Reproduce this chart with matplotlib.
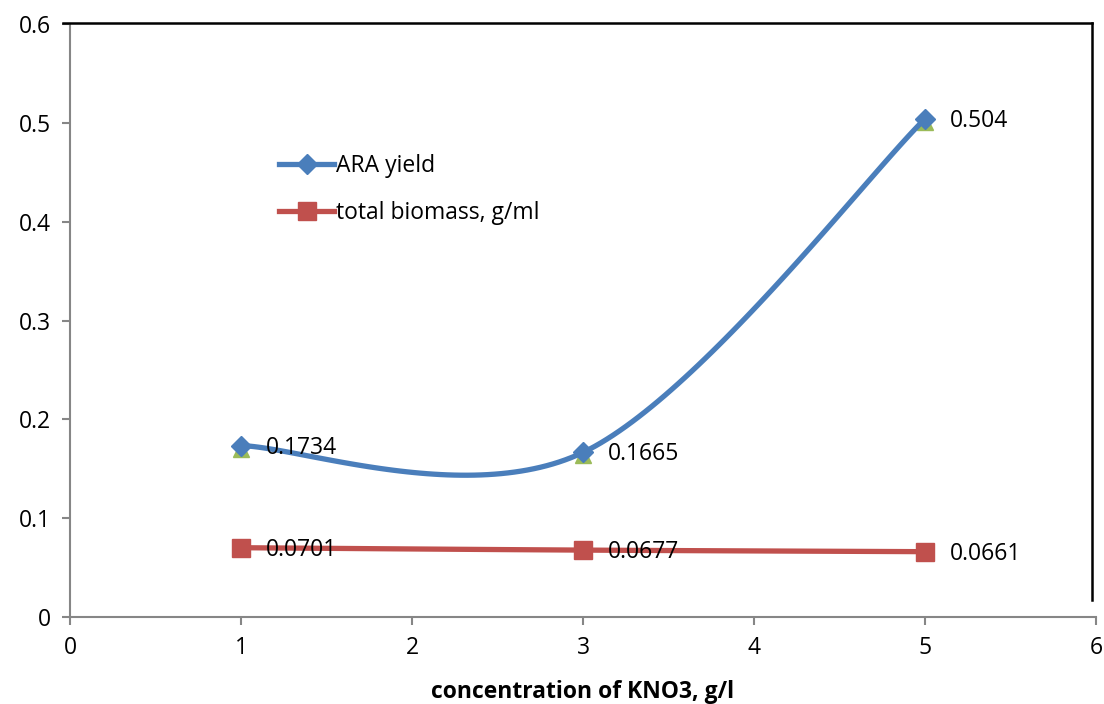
import numpy as np
import matplotlib.pyplot as plt
from matplotlib.lines import Line2D
from matplotlib.transforms import ScaledTranslation

plt.rcParams['font.family'] = ['Open Sans', 'DejaVu Sans']

conc = [1, 3, 5]
ara_yield = [0.1734, 0.1665, 0.504]
biomass = [0.0701, 0.0677, 0.0661]

x_ticks = [0, 1, 2, 3, 4, 5, 6]
y_ticks = [0, 0.1, 0.2, 0.3, 0.4, 0.5, 0.6]

BLUE = '#4A7EBB'
RED = '#C0504D'
GREEN = '#9BBB59'
GRAY = '#868686'
FS = 16.5


def excel_smooth(xs, ys, n=60):
    # Excel-style smoothed line: cubic bezier with catmull-rom control points
    pts = np.column_stack([xs, ys]).astype(float)
    ext = np.vstack([pts[0], pts, pts[-1]])
    out = []
    for i in range(len(pts) - 1):
        p0, p1, p2, p3 = ext[i], ext[i + 1], ext[i + 2], ext[i + 3]
        c1 = p1 + (p2 - p0) / 6
        c2 = p2 - (p3 - p1) / 6
        t = np.linspace(0, 1, n)[:, None]
        seg = ((1 - t) ** 3) * p1 + 3 * ((1 - t) ** 2) * t * c1 + 3 * (1 - t) * t ** 2 * c2 + t ** 3 * p2
        out.append(seg)
    out = np.vstack(out)
    return out[:, 0], out[:, 1]


fig = plt.figure(figsize=(11.04, 7.04), dpi=100)
ax = fig.add_axes([70 / 1104, 1 - 617 / 704, 1026 / 1104, 593 / 704])

# hidden third series (green triangles) sitting behind the diamonds
ax.plot(conc, ara_yield, linestyle='none', marker='^', color=GREEN, markersize=11,
        zorder=2, transform=ax.transData + ScaledTranslation(0, -3 / 100, fig.dpi_scale_trans))

sx, sy = excel_smooth(conc, ara_yield)
ax.plot(sx, sy, color=BLUE, linewidth=3.8, zorder=3, solid_capstyle='round')
ax.plot(conc, ara_yield, linestyle='none', marker='D', color=BLUE, markersize=10.5, zorder=4)

sx, sy = excel_smooth(conc, biomass)
ax.plot(sx, sy, color=RED, linewidth=3.8, zorder=3, solid_capstyle='round')
ax.plot(conc, biomass, linestyle='none', marker='s', color=RED, markersize=13, zorder=4)

for xv, yv in zip(conc, ara_yield):
    ax.annotate(f'{yv:g}', (xv, yv), xytext=(25, -2), textcoords='offset pixels',
                va='center', ha='left', fontsize=FS, zorder=5)
for xv, yv in zip(conc, biomass):
    ax.annotate(f'{yv:g}', (xv, yv), xytext=(25, -2), textcoords='offset pixels',
                va='center', ha='left', fontsize=FS, zorder=5)

ax.set_xlim(0, 6)
ax.set_ylim(0, 0.6)
ax.set_xticks(x_ticks)
ax.set_yticks(y_ticks)
ax.set_xticklabels([str(v) for v in x_ticks])
ax.set_yticklabels([f'{v:g}' for v in y_ticks])
ax.tick_params(axis='both', direction='out', length=6, width=1.5, color=GRAY,
               labelsize=FS, pad=8)
for side in ['top', 'right']:
    ax.spines[side].set_visible(False)
for side in ['left', 'bottom']:
    ax.spines[side].set_color(GRAY)
    ax.spines[side].set_linewidth(1.5)

ax.set_xlabel('concentration of KNO3, g/l', fontsize=FS, fontweight='bold', labelpad=14)

# black frame lines (top and right) like the pasted chart border
fig.add_artist(Line2D([63 / 1104, 1092 / 1104], [1 - 23 / 704, 1 - 23 / 704],
                      color='black', linewidth=1.8, transform=fig.transFigure))
fig.add_artist(Line2D([1092 / 1104, 1092 / 1104], [1 - 23 / 704, 1 - 600 / 704],
                      color='black', linewidth=1.8, transform=fig.transFigure))

handles = [
    Line2D([], [], color=BLUE, linewidth=3.8, marker='D', markersize=10),
    Line2D([], [], color=RED, linewidth=3.8, marker='s', markersize=13),
]
ax.legend(handles, ['ARA yield', 'total biomass, g/ml'], loc='upper left',
          bbox_to_anchor=(200 / 1026, 472 / 593), frameon=False, fontsize=FS,
          handlelength=2.4, handletextpad=0.1, labelspacing=1.0, borderaxespad=0)

fig.savefig('out.png', dpi=100)
